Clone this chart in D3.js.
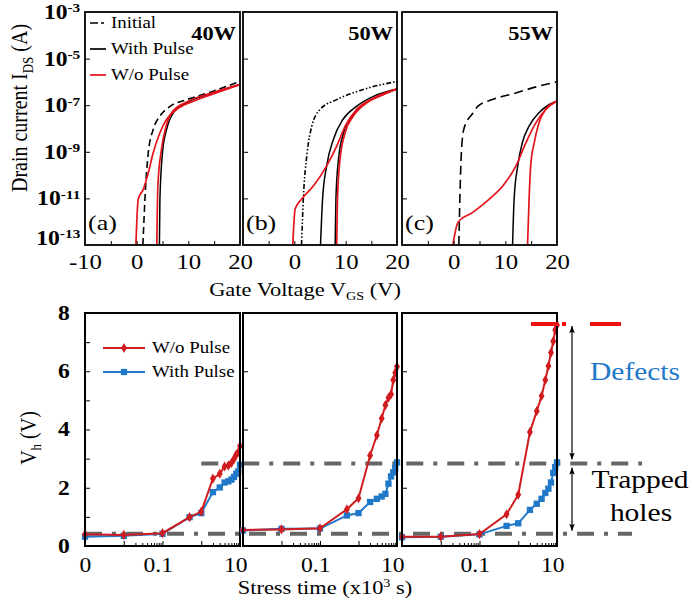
<!DOCTYPE html>
<html>
<head>
<meta charset="utf-8">
<script src="https://cdn.jsdelivr.net/npm/d3@7"></script>
<style>
  body { margin: 0; background: #fff; }
  svg text { font-family: "Liberation Serif", serif; }
</style>
</head>
<body>
<div id="chart"></div>
<script>
// ---- transfer curves, [Vgs (V), Ids (A)] ----
var initial40 = [[1.2,1e-13],[1.4,1e-12],[1.6,9.3e-12],[2.25,9.1e-10],[3.2,9.1e-9],[4.5,3.4e-8],[6.45,8.9e-8],[9.7,1.74e-7],[14.8,4e-7],[20,1.05e-6]];
var withPulse40 = [[4.4,1e-13],[4.5,9.3e-12],[5.0,9.1e-10],[5.8,9.1e-9],[7.1,4.7e-8],[9.7,1.26e-7],[14.8,3.4e-7],[20,7.6e-7]];
var woPulse40a = [[-0.15,1e-13],[0.3,9.3e-12],[1.3,2.5e-11],[2.25,1.26e-10],[3.2,9.1e-10],[4.5,6.6e-9],[5.8,2.5e-8],[7.7,6.5e-8],[11,1.48e-7],[15.5,3.4e-7],[20,7.6e-7]];
var woPulse40b = [[3.9,1e-13],[4.1,3.4e-11],[4.8,1.26e-9],[5.7,1.26e-8],[7.0,5.6e-8],[9.7,1.38e-7],[14.8,3.5e-7],[20,7.9e-7]];

var initial50 = [[1.4,1e-13],[1.75,9.3e-12],[2.5,9.1e-10],[3.4,1.26e-8],[5.0,6.5e-8],[8.25,1.74e-7],[13.4,4.7e-7],[20,1.05e-6]];
var withPulse50a = [[5.1,1e-13],[5.5,9.3e-12],[6.3,2.5e-10],[7.6,3.4e-9],[9.5,2.5e-8],[12.1,8.9e-8],[15.4,2.4e-7],[20,5e-7]];
var withPulse50b = [[7.95,1e-13],[8.1,9.3e-12],[8.6,4.8e-10],[9.6,6.6e-9],[11.3,3.4e-8],[14,1.26e-7],[17.2,2.8e-7],[20,5e-7]];
var woPulse50a = [[-0.3,1e-13],[0.15,3.5e-12],[1.4,9.3e-12],[3.7,3.4e-11],[6.3,2.5e-10],[8.25,1.74e-9],[9.9,1.26e-8],[12.1,6.5e-8],[15.4,2e-7],[20,5e-7]];
var woPulse50b = [[8.25,1e-13],[8.4,9.3e-12],[8.9,4.8e-10],[9.9,6.6e-9],[11.5,3.4e-8],[14.1,1.26e-7],[17.3,2.8e-7],[20,5e-7]];

var initial55 = [[1.0,1e-13],[1.2,9.3e-12],[1.5,1e-9],[2.0,1e-8],[3.7,4.5e-8],[4.6,8.7e-8],[7.2,1.66e-7],[11.7,3.2e-7],[16.2,6.3e-7],[20,1.02e-6]];
var withPulse55 = [[11.4,1e-13],[11.7,9.3e-12],[12.4,2.5e-10],[13.3,2.5e-9],[14.6,1.26e-8],[16.5,4.7e-8],[18.5,1.07e-7],[20,1.5e-7]];
var woPulse55a = [[-0.15,1e-13],[0.83,9.3e-13],[3.7,2.5e-12],[6.9,9.3e-12],[9.5,3.4e-11],[12.06,2.5e-10],[14.0,2.5e-9],[15.9,1.74e-8],[17.8,6.5e-8],[20,1.5e-7]];
var woPulse55b = [[14.3,1e-13],[14.6,9.3e-12],[14.9,2.5e-10],[15.6,2.5e-9],[16.5,1.74e-8],[17.8,6.5e-8],[20,1.5e-7]];

var powers = ["40W", "50W", "55W"];
var panelTags = ["(a)", "(b)", "(c)"];
var idsTicks = [1e-3, 1e-5, 1e-7, 1e-9, 1e-11, 1e-13];

// ---- hump voltage vs stress time (x10^3 s) ----
var stressTime = [0, 0.01, 0.1, 0.5, 1, 2, 3, 4, 5, 6, 7, 8, 9, 10];
var vhWo40   = [0.40,0.38,0.44,0.99,1.18,2.31,2.48,2.73,2.76,2.85,2.99,3.14,3.22,3.43];
var vhWith40 = [0.32,0.35,0.42,0.99,1.13,1.85,2.01,2.18,2.22,2.28,2.37,2.48,2.56,2.79];
var vhWo50   = [0.55,0.57,0.61,1.26,1.64,3.11,3.80,4.38,4.84,5.09,5.21,5.70,5.95,6.16];
var vhWith50 = [0.53,0.59,0.60,1.05,1.13,1.51,1.62,1.70,1.79,2.14,2.39,2.53,2.68,2.87];
var vhWo55   = [0.32,0.32,0.41,1.09,1.76,3.91,4.63,5.15,5.70,6.18,6.64,7.03,7.42,7.59];
var vhWith55 = [0.30,0.32,0.40,0.69,0.78,1.24,1.45,1.62,1.82,1.97,2.18,2.51,2.71,2.87];

var trapLevel = 0.42, holeLevel = 2.83, defectLevel = 7.62;

var svgWidth = 692, svgHeight = 601;
var SX = 1.18; // the source figure is stretched sideways
var red = "#e5131b", darkRed = "#d01c1f", blue = "#1f78c8", grey = "#666";
var font = '"Liberation Serif",serif';

var svg = d3.select("#chart").append("svg")
            .attr("width", svgWidth)
            .attr("height", svgHeight);
var defs = svg.append("defs");
defs.append("marker")
    .attr("id", "arr")
    .attr("viewBox", "0 0 10 10")
    .attr("refX", 10).attr("refY", 5)
    .attr("markerWidth", 7).attr("markerHeight", 9)
    .attr("markerUnits", "userSpaceOnUse")
    .attr("orient", "auto-start-reverse")
  .append("path")
    .attr("d", "M0,1 L10,5 L0,9 L2,5 z")
    .attr("fill", "#000");

// text helper: horizontal stretch like the source
function label(parent, x, y, size, opts) {
  opts = opts || {};
  var tr = `translate(${x},${y})` + (opts.rotate ? ` rotate(-90) scale(1,${SX})` : ` scale(${SX},1)`);
  return parent.append("text")
    .attr("transform", tr)
    .attr("font-family", font)
    .attr("font-size", size)
    .attr("font-weight", opts.bold ? "bold" : null)
    .attr("text-anchor", opts.anchor || "start")
    .attr("fill", opts.fill || "#000");
}

var panelLeft = [85, 243, 402];
var panelRight = [240, 397, 557];

// ================= top row: transfer curves =================
var topTop = 12, topBottom = 245;
var yIds = d3.scaleLog().domain([1e-13, 1e-3]).range([topBottom, topTop]);

var topPanels = [
  {initial: initial40, dash: "7,4", black: [withPulse40], red: [woPulse40a, woPulse40b]},
  {initial: initial50, dash: "5,2,1.5,2,1.5,2", black: [withPulse50a, withPulse50b], red: [woPulse50a, woPulse50b]},
  {initial: initial55, dash: "9,5", black: [withPulse55], red: [woPulse55a, woPulse55b]}
];

topPanels.forEach(function(p, i) {
  var x = d3.scaleLinear().domain([-10, 20]).range([panelLeft[i], panelRight[i]]);
  var g = svg.append("g");

  defs.append("clipPath").attr("id", "ct" + i).append("rect")
      .attr("x", panelLeft[i]).attr("y", topTop)
      .attr("width", panelRight[i] - panelLeft[i]).attr("height", topBottom - topTop);

  var line = d3.line().x(d => x(d[0])).y(d => yIds(d[1])).curve(d3.curveMonotoneX);
  var plot = g.append("g").attr("clip-path", `url(#ct${i})`);

  plot.append("path").datum(p.initial).attr("d", line)
      .attr("fill", "none").attr("stroke", "#000").attr("stroke-width", 1.6)
      .attr("stroke-dasharray", p.dash);
  p.black.forEach(function(c) {
    plot.append("path").datum(c).attr("d", line)
        .attr("fill", "none").attr("stroke", "#000").attr("stroke-width", 1.5);
  });
  p.red.forEach(function(c) {
    plot.append("path").datum(c).attr("d", line)
        .attr("fill", "none").attr("stroke", red).attr("stroke-width", 1.7);
  });

  // inner ticks
  g.append("g").attr("transform", `translate(${panelLeft[i]},0)`)
   .call(d3.axisRight(yIds).tickValues([1e-5, 1e-7, 1e-9, 1e-11]).tickSize(5).tickFormat(""))
   .call(a => a.select(".domain").remove());
  g.append("g").attr("transform", `translate(0,${topBottom})`)
   .call(d3.axisTop(x).tickValues([-5, 0, 5, 10, 15]).tickSize(4).tickFormat(""))
   .call(a => a.select(".domain").remove());

  // tick labels
  g.append("g").attr("transform", `translate(0,${topBottom})`)
   .call(d3.axisBottom(x).tickValues(i == 0 ? [-10, 0, 10, 20] : [0, 10, 20])
         .tickSize(0).tickPadding(9).tickFormat(d => String(d)))
   .call(a => a.select(".domain").remove())
   .selectAll("text")
     .attr("font-size", 21).attr("font-family", font).attr("fill", "#000")
     .attr("transform", `scale(${SX},1)`);

  if (i == 0) {
    g.append("g").attr("transform", `translate(${panelLeft[i]},0)`)
     .call(d3.axisLeft(yIds).tickValues(idsTicks).tickSize(0).tickPadding(4))
     .call(a => a.select(".domain").remove())
     .selectAll("text")
       .attr("font-size", 20).attr("font-weight", "bold").attr("font-family", font).attr("fill", "#000")
       .attr("transform", d => d < 1e-12 ? `translate(0,-7) scale(${SX},1)` : `scale(${SX},1)`)
       .each(function(d) {
         var t = d3.select(this);
         t.text("10");
         t.append("tspan").attr("dy", "-0.5em").attr("font-size", "0.65em").text(Math.round(Math.log10(d)));
       });
  }

  g.append("rect")
   .attr("x", panelLeft[i]).attr("y", topTop)
   .attr("width", panelRight[i] - panelLeft[i]).attr("height", topBottom - topTop)
   .attr("fill", "none").attr("stroke", "#000").attr("stroke-width", 1.8);

  label(g, panelRight[i] - 4, topTop + 28, 19, {bold: true, anchor: "end"}).text(powers[i]);
  label(g, panelLeft[i] + 3, topBottom - 15, 22).text(panelTags[i]);
});

// legend (a)
var legTop = [
  {name: "Initial", color: "#000", dash: "8,3,3,40"},
  {name: "With Pulse", color: "#000", dash: null},
  {name: "W/o Pulse", color: red, dash: null}
];
legTop.forEach(function(d, k) {
  var yy = 23 + k * 26;
  svg.append("line").attr("x1", 90).attr("x2", 106).attr("y1", yy).attr("y2", yy)
     .attr("stroke", d.color).attr("stroke-width", 1.7).attr("stroke-dasharray", d.dash);
  label(svg, 111, yy + 5, 16).text(d.name);
});

// axis titles (top)
var t1 = label(svg, 27, 108, 20, {rotate: true, anchor: "middle"});
t1.append("tspan").text("Drain current I");
t1.append("tspan").attr("font-size", 13).attr("dy", 5).text("DS");
t1.append("tspan").attr("dy", -5).text(" (A)");

var t2 = label(svg, 305, 296, 19, {anchor: "middle"});
t2.append("tspan").text("Gate Voltage V");
t2.append("tspan").attr("font-size", 12).attr("dy", 4).text("GS");
t2.append("tspan").attr("dy", -4).text(" (V)");

// ================= bottom row: hump voltage =================
var botTop = 313, botBottom = 546;
var yVh = d3.scaleLinear().domain([0, 8]).range([botBottom, botTop]);

var botPanels = [
  {wo: vhWo40, withP: vhWith40},
  {wo: vhWo50, withP: vhWith50},
  {wo: vhWo55, withP: vhWith55}
];
var xStress = botPanels.map((p, i) =>
  d3.scaleLog().domain([0.001, 10]).range([panelLeft[i], panelRight[i]]));
// t = 0 sits on the left edge of the log axis
function tx(i, t) { return xStress[i](Math.max(t, 0.001)); }

// reference levels (behind data)
var refG = svg.append("g");
refG.append("line")
    .attr("x1", tx(0, 0)).attr("x2", panelRight[2] + 75)
    .attr("y1", yVh(trapLevel)).attr("y2", yVh(trapLevel))
    .attr("stroke", grey).attr("stroke-width", 4).attr("stroke-dasharray", "17,10,4,10");
refG.append("line")
    .attr("x1", tx(0, 1)).attr("x2", panelRight[2] + 85)
    .attr("y1", yVh(holeLevel)).attr("y2", yVh(holeLevel))
    .attr("stroke", grey).attr("stroke-width", 4).attr("stroke-dasharray", "17,10,4,10");

botPanels.forEach(function(p, i) {
  var x = xStress[i];
  var g = svg.append("g");

  g.append("g").attr("transform", `translate(0,${botBottom})`)
   .call(d3.axisTop(x).tickValues([0.01, 0.1, 1]).tickSize(5).tickFormat(""))
   .call(a => a.select(".domain").remove());
  g.append("g").attr("transform", `translate(0,${botBottom})`)
   .call(d3.axisTop(x).tickValues([0.02,0.03,0.04,0.05,0.06,0.07,0.08,0.09,2,3,4,5,6,7,8,9]).tickSize(3).tickFormat(""))
   .call(a => a.select(".domain").remove());
  g.append("g").attr("transform", `translate(${panelLeft[i]},0)`)
   .call(d3.axisRight(yVh).tickValues(i == 0 ? [1,2,3,4,5,6,7] : [2,4,6]).tickSize(5).tickFormat(""))
   .call(a => a.select(".domain").remove());

  g.append("g").attr("transform", `translate(0,${botBottom})`)
   .call(d3.axisBottom(x).tickValues(i == 0 ? [0.001, 0.1, 10] : [0.1, 10])
         .tickSize(0).tickPadding(12).tickFormat(d => d < 0.01 ? "0" : String(d)))
   .call(a => a.select(".domain").remove())
   .selectAll("text")
     .attr("font-size", 20).attr("font-family", font).attr("fill", "#000")
     .attr("dx", d => d < 0.01 ? 0 : -4)
     .attr("transform", `scale(${SX},1)`);

  if (i == 0) {
    g.append("g").attr("transform", `translate(${panelLeft[i]},0)`)
     .call(d3.axisLeft(yVh).tickValues([0, 2, 4, 6, 8]).tickSize(0).tickPadding(13))
     .call(a => a.select(".domain").remove())
     .selectAll("text")
       .attr("font-size", 20).attr("font-weight", "bold").attr("font-family", font).attr("fill", "#000")
       .attr("transform", `scale(${SX},1)`);
  }

  var line = d3.line().x((d, k) => tx(i, stressTime[k])).y(d => yVh(d));

  g.append("path").datum(p.withP).attr("d", line)
   .attr("fill", "none").attr("stroke", blue).attr("stroke-width", 2);
  g.selectAll(".sq").data(p.withP).enter().append("path")
   .attr("transform", (d, k) => `translate(${tx(i, stressTime[k])},${yVh(d)})`)
   .attr("d", d3.symbol(d3.symbolSquare, 40)).attr("fill", blue);

  g.append("path").datum(p.wo).attr("d", line)
   .attr("fill", "none").attr("stroke", darkRed).attr("stroke-width", 2);
  g.selectAll(".dm").data(p.wo).enter().append("path")
   .attr("transform", (d, k) => `translate(${tx(i, stressTime[k])},${yVh(d)})`)
   .attr("d", d3.symbol(d3.symbolDiamond, 30)).attr("fill", darkRed);

  g.append("rect")
   .attr("x", panelLeft[i]).attr("y", botTop)
   .attr("width", panelRight[i] - panelLeft[i]).attr("height", botBottom - botTop)
   .attr("fill", "none").attr("stroke", "#000").attr("stroke-width", 2);
});

// red defect level
svg.append("line")
   .attr("x1", panelRight[2] - 26).attr("x2", panelRight[2] + 64)
   .attr("y1", yVh(defectLevel)).attr("y2", yVh(defectLevel))
   .attr("stroke", "#ee1111").attr("stroke-width", 4).attr("stroke-dasharray", "27,4,4,24,31");

// arrows
var ax = panelRight[2] + 15;
svg.append("line").attr("x1", ax).attr("x2", ax)
   .attr("y1", yVh(defectLevel) + 2).attr("y2", yVh(holeLevel) - 4)
   .attr("stroke", "#000").attr("stroke-width", 1.2)
   .attr("marker-start", "url(#arr)").attr("marker-end", "url(#arr)");
svg.append("line").attr("x1", ax).attr("x2", ax)
   .attr("y1", yVh(holeLevel) + 4).attr("y2", yVh(trapLevel) - 3)
   .attr("stroke", "#000").attr("stroke-width", 1.2)
   .attr("marker-start", "url(#arr)").attr("marker-end", "url(#arr)");

label(svg, 590, 380, 25, {fill: blue}).text("Defects");
label(svg, 640, 488, 25, {anchor: "middle"}).text("Trapped");
label(svg, 641, 521, 25, {anchor: "middle"}).text("holes");

// legend (bottom)
var legBot = [
  {name: "W/o Pulse", color: darkRed, sym: d3.symbolDiamond, size: 30},
  {name: "With Pulse", color: blue, sym: d3.symbolSquare, size: 40}
];
legBot.forEach(function(d, k) {
  var yy = 348 + k * 24;
  svg.append("line").attr("x1", 103).attr("x2", 145).attr("y1", yy).attr("y2", yy)
     .attr("stroke", d.color).attr("stroke-width", 2);
  svg.append("path").attr("transform", `translate(124,${yy})`)
     .attr("d", d3.symbol(d.sym, d.size)).attr("fill", d.color);
  label(svg, 152, yy + 5, 16).text(d.name);
});

var t3 = label(svg, 36, 438, 20, {rotate: true, anchor: "middle"});
t3.append("tspan").text("V");
t3.append("tspan").attr("font-size", 13).attr("dy", 4).text("h");
t3.append("tspan").attr("dy", -4).text(" (V)");

var t4 = label(svg, 325, 594, 19, {anchor: "middle"});
t4.append("tspan").text("Stress time (x10");
t4.append("tspan").attr("font-size", 12).attr("dy", -7).text("3");
t4.append("tspan").attr("dy", 7).text(" s)");
</script>
</body>
</html>
